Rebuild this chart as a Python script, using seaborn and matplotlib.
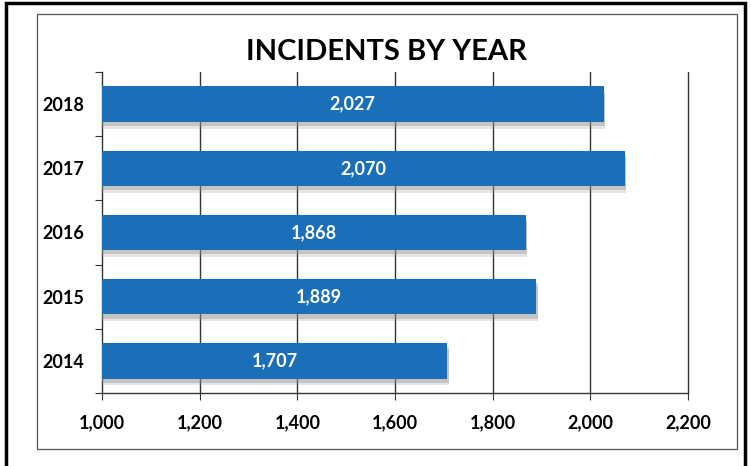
import matplotlib
matplotlib.use("Agg")
from matplotlib import pyplot as plt
from matplotlib import patheffects
from matplotlib.patches import Rectangle
import matplotlib.ticker as mticker
import pandas as pd
import seaborn as sns

years = ["2018", "2017", "2016", "2015", "2014"]
incidents = [2027, 2070, 1868, 1889, 1707]
x_ticks = [1000, 1200, 1400, 1600, 1800, 2000, 2200]

bar_color = "#1a6fb8"

sns.set_style("white")
plt.rcParams["font.family"] = ["Lato", "DejaVu Sans"]

df = pd.DataFrame({"year": years, "incidents": incidents})

fig = plt.figure(figsize=(7.51, 4.66), dpi=100)
ax = fig.add_axes([0.1358, 0.1567, 0.9161 - 0.1358, 0.8455 - 0.1567])

# frames around the chart (scanned look)
fig.patches.append(Rectangle((0.008, -0.05), 0.984, 1.043, transform=fig.transFigure,
                             fill=False, edgecolor="black", linewidth=2.5))
fig.patches.append(Rectangle((0.049, 0.036), 0.932, 0.935, transform=fig.transFigure,
                             fill=False, edgecolor="#555555", linewidth=0.9))

sns.barplot(data=df, x="incidents", y="year", order=years, orient="h",
            color=bar_color, width=0.55, saturation=1, linewidth=0, ax=ax, zorder=3)

# soft drop shadow under the bars
for bar in ax.patches:
    bar.set_path_effects([
        patheffects.withSimplePatchShadow(offset=(1, -5), shadow_rgbFace="#999999", alpha=0.25),
        patheffects.withSimplePatchShadow(offset=(1, -3), shadow_rgbFace="#888888", alpha=0.35),
        patheffects.Normal()])

ax.set_xlim(1000, 2200)
ax.set_xticks(x_ticks)
ax.xaxis.set_major_formatter(mticker.FuncFormatter(lambda v, p: f"{int(v):,}"))
ax.set_xlabel("")
ax.set_ylabel("")

# vertical gridlines
for t in x_ticks[1:]:
    ax.axvline(t, color="#333333", linewidth=1.0, zorder=1, clip_on=False)

# category boundary ticks on the y axis
ax.set_yticks([i - 0.5 for i in range(len(years) + 1)], minor=True)
ax.tick_params(axis="y", which="minor", length=5, width=0.8, color="#333333", left=True)
ax.tick_params(axis="y", which="major", length=0, pad=13, labelsize=13,
               labelcolor="black")
ax.tick_params(axis="x", which="major", length=5, width=0.8, color="#333333",
               bottom=True, pad=10, labelsize=13, labelcolor="black")
for lbl in ax.get_xticklabels() + ax.get_yticklabels():
    lbl.set_fontweight("bold")

for side in ["top", "right"]:
    ax.spines[side].set_visible(False)
for side in ["left", "bottom"]:
    ax.spines[side].set_color("#333333")
    ax.spines[side].set_linewidth(1.0)

for bar, val in zip(ax.patches, incidents):
    cx = (1000 + val) / 2
    cy = bar.get_y() + bar.get_height() / 2
    ax.text(cx, cy, f"{val:,}", ha="center", va="center", color="white",
            fontsize=13, fontweight="bold", zorder=4)

fig.text(0.515, 0.888, "INCIDENTS BY YEAR", ha="center", va="center",
         fontsize=21, fontweight="bold", color="black")

fig.savefig("out.png", dpi=100)
